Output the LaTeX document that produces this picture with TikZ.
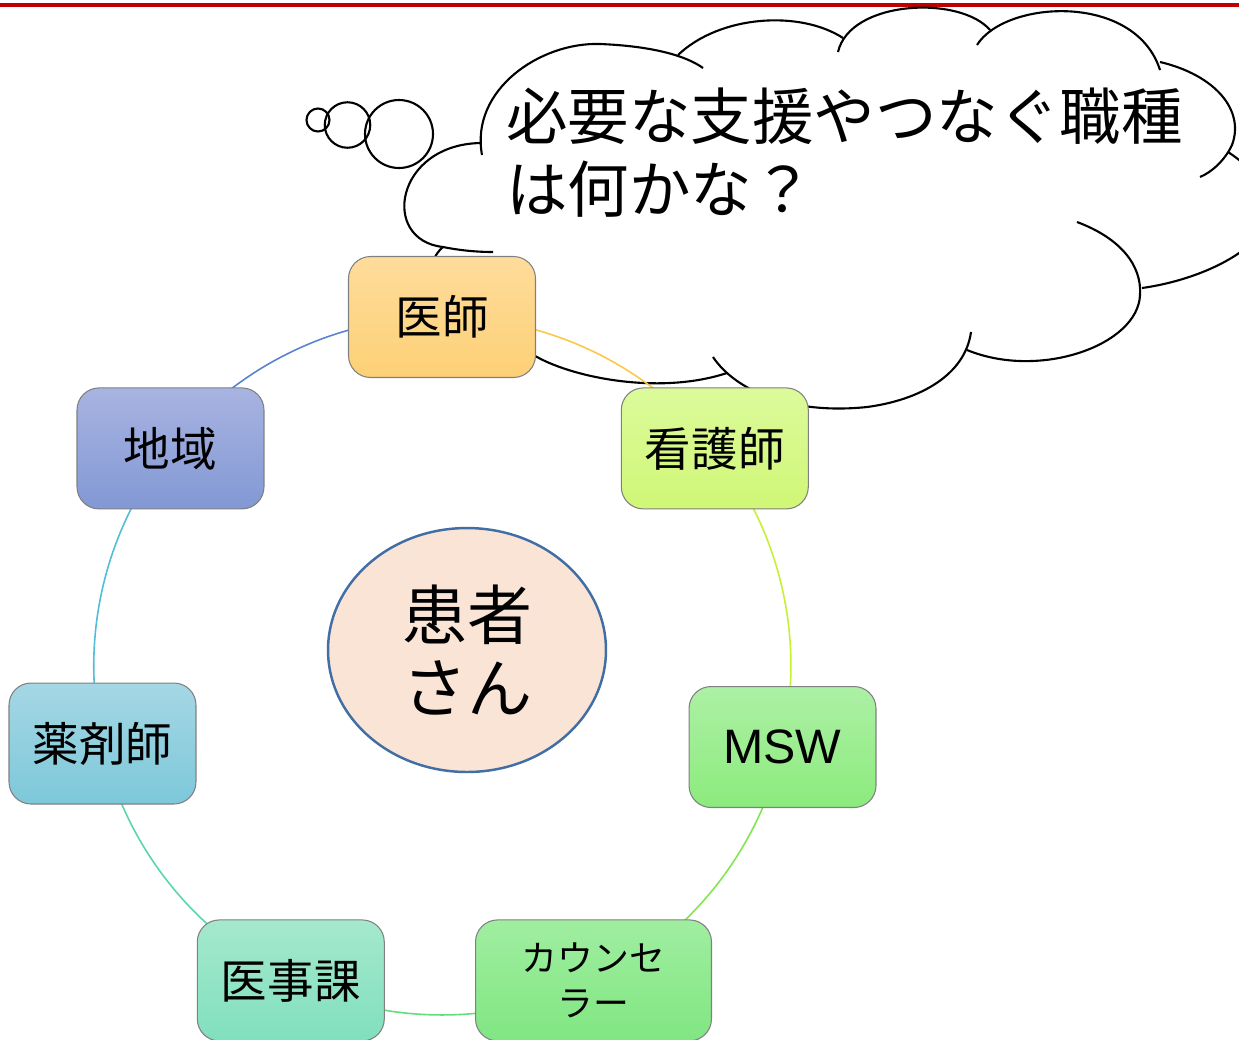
\documentclass[tikz,border=0pt]{standalone}
\usepackage{fontspec}
\setmainfont{Noto Sans CJK JP}
\newfontfamily\mswfont{Liberation Sans}
\usetikzlibrary{shapes.geometric,backgrounds}
\definecolor{redline}{RGB}{192,0,0}
\definecolor{boxedge}{RGB}{128,128,128}
\definecolor{docT}{RGB}{254,220,155}\definecolor{docB}{RGB}{253,208,118}
\definecolor{nurT}{RGB}{220,250,155}\definecolor{nurB}{RGB}{208,247,118}
\definecolor{mswT}{RGB}{172,240,165}\definecolor{mswB}{RGB}{140,235,125}
\definecolor{couT}{RGB}{160,238,160}\definecolor{couB}{RGB}{128,230,130}
\definecolor{jimT}{RGB}{165,232,205}\definecolor{jimB}{RGB}{128,224,190}
\definecolor{yakT}{RGB}{165,215,228}\definecolor{yakB}{RGB}{125,200,218}
\definecolor{chiT}{RGB}{168,180,225}\definecolor{chiB}{RGB}{130,152,212}
\definecolor{ptfill}{RGB}{250,228,214}\definecolor{ptedge}{RGB}{65,110,165}
\definecolor{arcA}{RGB}{252,200,70}
\definecolor{arcB}{RGB}{200,240,50}
\definecolor{arcC}{RGB}{130,230,80}
\definecolor{arcD}{RGB}{100,222,120}
\definecolor{arcE}{RGB}{90,215,170}
\definecolor{arcF}{RGB}{80,190,215}
\definecolor{arcG}{RGB}{90,130,210}
\tikzset{
  role/.style={draw=boxedge, line width=0.6pt, rounded corners=0.44cm,
    minimum width=3.74cm, minimum height=2.42cm, inner sep=0pt,
    align=center, font=\fontsize{26.5}{30}\selectfont},
  cloudline/.style={draw=black, line width=1.2pt},
  ring/.style={line width=0.9pt},
}
\begin{document}
\begin{tikzpicture}[x=0.02cm,y=0.02cm]
\useasboundingbox (0,0) rectangle (1239,-1039);

% nodes (main layer), placed round a ring of radius 349 about (442,-666)
\node[role, top color=docT, bottom color=docB] (doc) at (442,-317) {医師};
\node[role, top color=nurT, bottom color=nurB] (nurse) at (714.8,-448.4) {看護師};
\node[role, top color=mswT, bottom color=mswB, font=\mswfont\fontsize{27.5}{30}\selectfont] (msw) at (782.5,-747) {MSW};
\node[role, top color=couT, bottom color=couB, minimum width=4.72cm, font=\fontsize{20.4}{25.6}\selectfont] (coun) at (593.5,-980.4) {カウンセ\\ラー};
\node[role, top color=jimT, bottom color=jimB] (jim) at (290.8,-980.4) {医事課};
\node[role, top color=yakT, bottom color=yakB] (yaku) at (102.5,-743.5) {薬剤師};
\node[role, top color=chiT, bottom color=chiB] (chiiki) at (170.5,-448.4) {地域};

\node[ellipse, draw=ptedge, line width=1.4pt, fill=ptfill, minimum width=5.56cm,
  minimum height=4.88cm, inner sep=0pt, align=center,
  font=\fontsize{37}{41.5}\selectfont] (patient) at (467,-650) {患者\\さん};

\node[anchor=west, align=left, inner sep=0pt, font=\fontsize{35}{41.5}\selectfont]
  (question) at (506,-153) {必要な支援やつなぐ職種\\は何かな？};

\begin{pgfonlayer}{background}
\fill[white] (0,0) rectangle (1239,-1039);
\draw[redline, line width=2pt] (0,-5) -- (1239,-5);

\begin{scope}
\clip (0,0) rectangle (1239,-1039);
\begin{scope}[cloudline]
\draw (482,-155) .. controls (470,-90) and (540,-42) .. (600,-44)
      .. controls (650,-46) and (685,-55) .. (703,-68);
\draw (678,-55) .. controls (720,-15) and (800,-10) .. (843,-38);
\draw (838,-52) .. controls (850,0) and (960,5) .. (990,-30);
\draw (977,-45) .. controls (1005,0) and (1135,8) .. (1160,-70);
\draw (1160,-62) .. controls (1215,-75) and (1245,-110) .. (1232,-145)
      .. controls (1225,-160) and (1212,-172) .. (1200,-177);
\draw (1228,-152) .. controls (1240,-160) and (1268,-180) .. (1272,-210)
      .. controls (1265,-250) and (1200,-280) .. (1142,-288);
\draw (1077,-222) .. controls (1120,-238) and (1142,-265) .. (1140,-295)
      .. controls (1138,-345) and (1040,-380) .. (967,-350);
\draw (713,-357) .. controls (735,-390) and (790,-415) .. (867,-407)
      .. controls (920,-400) and (965,-375) .. (971,-332);
\draw (443,-247) .. controls (405,-280) and (480,-326) .. (537,-357)
      .. controls (575,-378) and (660,-395) .. (727,-373);
\draw (480,-143) .. controls (395,-145) and (380,-240) .. (443,-247)
      .. controls (458,-250) and (475,-252) .. (493,-252);
\draw (318,-120) circle[radius=0.23cm];
\draw (347.5,-125) circle[radius=0.455cm];
\draw (399,-134) circle[radius=0.68cm];
\end{scope}
\end{scope}

% ring segments, each leaving one node centre along the circle to the next
\draw[ring, arcA] (doc.center)    arc[start angle=90,       end angle=38.571,   radius=6.98cm];
\draw[ring, arcB] (nurse.center)  arc[start angle=38.571,   end angle=-12.857,  radius=6.98cm];
\draw[ring, arcC] (msw.center)    arc[start angle=-12.857,  end angle=-64.286,  radius=6.98cm];
\draw[ring, arcD] (coun.center)   arc[start angle=-64.286,  end angle=-115.714, radius=6.98cm];
\draw[ring, arcE] (jim.center)    arc[start angle=-115.714, end angle=-167.143, radius=6.98cm];
\draw[ring, arcF] (yaku.center)   arc[start angle=-167.143, end angle=-218.571, radius=6.98cm];
\draw[ring, arcG] (chiiki.center) arc[start angle=141.429,  end angle=90,       radius=6.98cm];
\end{pgfonlayer}
\end{tikzpicture}
\end{document}
